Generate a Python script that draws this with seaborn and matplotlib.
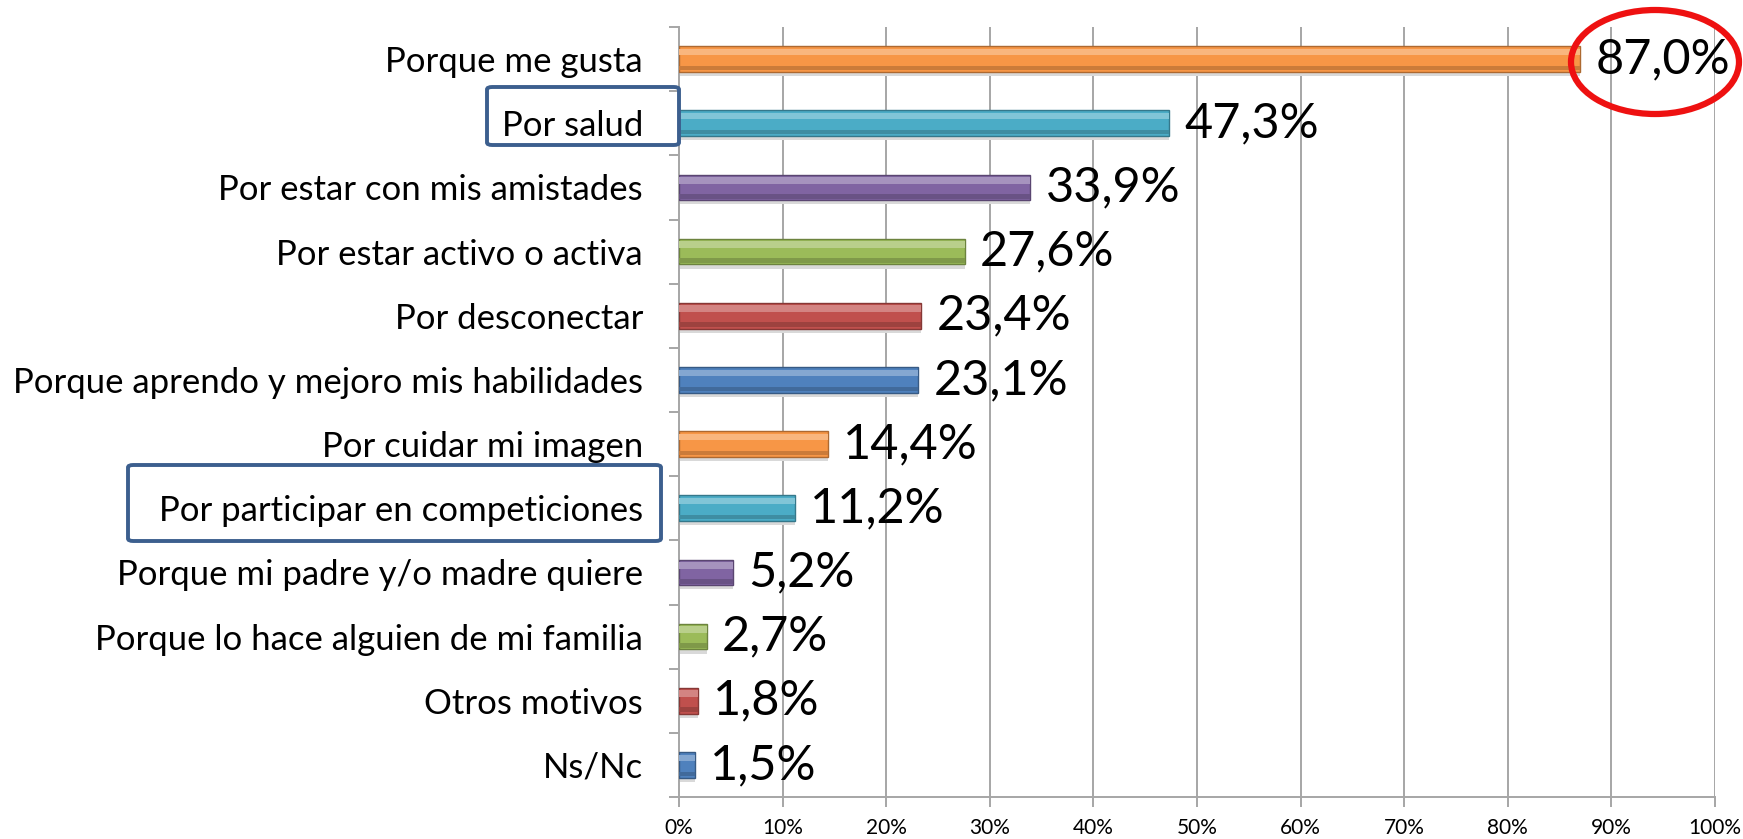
import matplotlib
matplotlib.use("Agg")
import matplotlib.pyplot as plt
import seaborn as sns
import pandas as pd
import numpy as np
from matplotlib.patches import Ellipse, FancyBboxPatch
import matplotlib.colors as mcolors

categories = [
    "Porque me gusta",
    "Por salud",
    "Por estar con mis amistades",
    "Por estar activo o activa",
    "Por desconectar",
    "Porque aprendo y mejoro mis habilidades",
    "Por cuidar mi imagen",
    "Por participar en competiciones",
    "Porque mi padre y/o madre quiere",
    "Porque lo hace alguien de mi familia",
    "Otros motivos",
    "Ns/Nc",
]
values = [87.0, 47.3, 33.9, 27.6, 23.4, 23.1, 14.4, 11.2, 5.2, 2.7, 1.8, 1.5]
value_labels = ["87,0%", "47,3%", "33,9%", "27,6%", "23,4%", "23,1%",
                "14,4%", "11,2%", "5,2%", "2,7%", "1,8%", "1,5%"]
bar_colors = ["#F79646", "#4BACC6", "#8064A2", "#9BBB59", "#C0504D", "#4F81BD",
              "#F79646", "#4BACC6", "#8064A2", "#9BBB59", "#C0504D", "#4F81BD"]
x_ticks = [0, 10, 20, 30, 40, 50, 60, 70, 80, 90, 100]
x_tick_labels = ["0%", "10%", "20%", "30%", "40%", "50%", "60%", "70%", "80%", "90%", "100%"]

df = pd.DataFrame({"cat": categories, "val": values})

sns.set_theme(style="white")
plt.rcParams["font.family"] = ["Lato", "DejaVu Sans"]

fig = plt.figure(figsize=(17.43, 8.39), dpi=100)
ax = fig.add_axes([679 / 1743, 1 - 797 / 839, (1715 - 679) / 1743, (797 - 27) / 839])

grid_c = "#A6A6A6"
for xv in x_ticks[1:]:
    ax.axvline(xv, color=grid_c, lw=1.4, zorder=0)

sns.barplot(data=df, x="val", y="cat", hue="cat", palette=bar_colors, orient="h",
            width=0.4, legend=False, ax=ax, zorder=3, saturation=1)

def shade(c, f):
    r, g, b = mcolors.to_rgb(c)
    if f > 0:
        return (r + (1 - r) * f, g + (1 - g) * f, b + (1 - b) * f)
    return (r * (1 + f), g * (1 + f), b * (1 + f))

for i, p in enumerate(ax.patches):
    p.set_edgecolor(shade(bar_colors[i], -0.3))
    p.set_linewidth(1.0)
ypos = np.arange(len(categories))
ax.barh(ypos - 0.11, values, height=0.1, color=[shade(c, 0.3) for c in bar_colors],
        zorder=4, lw=0)
ax.barh(ypos + 0.14, values, height=0.07, color=[shade(c, -0.18) for c in bar_colors],
        zorder=4, lw=0)
ax.barh(ypos + 0.24, values, height=0.05, color="#D9D9D9", zorder=2, lw=0)

ax.set_xlim(0, 100)
ax.set_ylim(len(categories) - 0.5, -0.5)
ax.set_xticks(x_ticks)
ax.set_xticklabels(x_tick_labels, fontsize=15)
ax.set_xlabel("")
ax.set_ylabel("")
ax.set_yticks(ypos)
ax.set_yticklabels(categories, fontsize=25)
ax.set_yticks(np.arange(-0.5, len(categories), 1), minor=True)
ax.tick_params(axis="y", which="major", length=0, pad=26, colors="black")
ax.tick_params(axis="y", which="minor", length=7, width=1.4, color=grid_c, left=True)
ax.tick_params(axis="x", which="major", length=7, width=1.4, color=grid_c, pad=8,
               bottom=True, labelcolor="black")
for s in ["top", "right"]:
    ax.spines[s].set_visible(False)
for s in ["left", "bottom"]:
    ax.spines[s].set_color(grid_c)
    ax.spines[s].set_linewidth(1.4)

for i, (v, lab) in enumerate(zip(values, value_labels)):
    ax.annotate(lab, xy=(v, i), xytext=(11, 0), textcoords="offset points",
                ha="left", va="center", fontsize=35, color="black", zorder=6)

W, H = 1743, 839
def px_box(x0, y0, x1, y1):
    return FancyBboxPatch((x0 / W, 1 - y1 / H), (x1 - x0) / W, (y1 - y0) / H,
                          boxstyle="round,pad=0,rounding_size=0.003",
                          transform=fig.transFigure, fill=False,
                          edgecolor="#3C5F8E", lw=2.8, zorder=10)
fig.patches.append(px_box(487, 87, 679, 145))
fig.patches.append(px_box(128, 465, 661, 541))
fig.patches.append(Ellipse((1655 / W, 1 - 62 / H), 168 / W, 104 / H,
                           transform=fig.transFigure, fill=False,
                           edgecolor="#EE1111", lw=4.5, zorder=10))

fig.savefig("out.png", dpi=100)
